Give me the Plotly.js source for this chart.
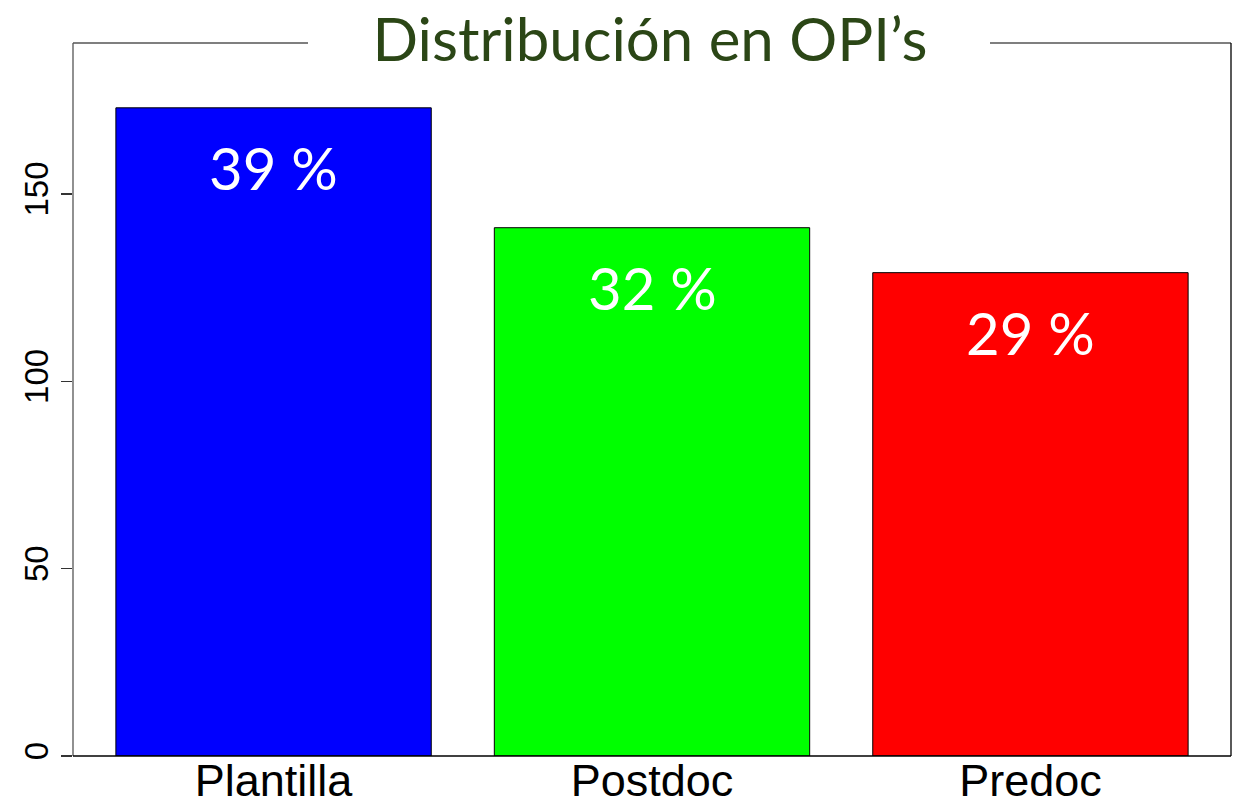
<!DOCTYPE html>
<html>
<head>
<meta charset="utf-8">
<script src="https://cdn.plot.ly/plotly-3.0.1.min.js"></script>
<style>html,body{margin:0;padding:0;background:#fff;}#chart{width:1249px;height:798px;}</style>
</head>
<body>
<div id="chart"></div>
<script>
const categories = ["Plantilla", "Postdoc", "Predoc"];
const counts = [173, 141, 129];
const barColors = ["#0000FF", "#00FF00", "#FF0000"];
const yTicks = [0, 50, 100, 150];
const titleText = "Distribución en OPI’s";

const total = counts.reduce((a, b) => a + b, 0);
const pctLabels = counts.map(v => Math.round(100 * v / total) + " %");

const trace = {
  type: "bar",
  x: categories,
  y: counts,
  width: 1 / 1.2,
  marker: { color: barColors, line: { color: "#000", width: 1 } },
  hoverinfo: "skip"
};

const annotations = categories.map((c, i) => ({
  x: c, y: counts[i] - 16, xref: "x", yref: "y",
  text: pctLabels[i], showarrow: false,
  font: { family: "Lato, 'Open Sans', sans-serif", size: 58, color: "#fff" },
  yanchor: "middle", xanchor: "center"
}));

const gapL = (308 - 73) / 1158, gapR = (990 - 73) / 1158;
const shapes = [
  { type: "line", xref: "paper", yref: "paper", x0: 0, x1: 0, y0: 0, y1: 1, line: { color: "#555", width: 1.3 } },
  { type: "line", xref: "paper", yref: "paper", x0: 0, x1: gapL, y0: 1, y1: 1, line: { color: "#555", width: 1.3 } },
  { type: "line", xref: "paper", yref: "paper", x0: gapR, x1: 1, y0: 1, y1: 1, line: { color: "#555", width: 1.3 } },
  { type: "line", xref: "paper", yref: "paper", x0: 1, x1: 1, y0: 0, y1: 1, line: { color: "#000", width: 1.3 } },
  { type: "line", xref: "paper", yref: "paper", x0: 0, x1: 1, y0: 0, y1: 0, line: { color: "#000", width: 1.3 } }
];

const layout = {
  width: 1249, height: 798,
  margin: { l: 73, r: 18, t: 43, b: 42, pad: 0 },
  paper_bgcolor: "#fff", plot_bgcolor: "#fff",
  showlegend: false,
  title: {
    text: titleText,
    font: { family: "Lato, 'Open Sans', sans-serif", size: 60, color: "#2b4616" },
    x: (650 - 73) / 1158, xref: "paper", xanchor: "center",
    y: 1 - 40 / 798, yref: "container", yanchor: "middle"
  },
  xaxis: {
    type: "category",
    range: [-0.53, 2.53],
    showgrid: false, zeroline: false, showline: false,
    ticks: "", ticklen: 0, ticklabelstandoff: -6,
    tickfont: { family: "'Liberation Sans', Arial, sans-serif", size: 45, color: "#000" },
    fixedrange: true
  },
  yaxis: {
    range: [0, 190.3],
    tickvals: yTicks,
    ticktext: yTicks.map(String),
    tickangle: -90,
    showgrid: false, zeroline: false, showline: false,
    ticks: "outside", ticklen: 11, tickwidth: 1.3, tickcolor: "#333",
    tickfont: { family: "'Liberation Sans', Arial, sans-serif", size: 33, color: "#000" },
    fixedrange: true
  },
  shapes: shapes,
  annotations: annotations
};

Plotly.newPlot("chart", [trace], layout, { displayModeBar: false, staticPlot: true });
</script>
</body>
</html>
